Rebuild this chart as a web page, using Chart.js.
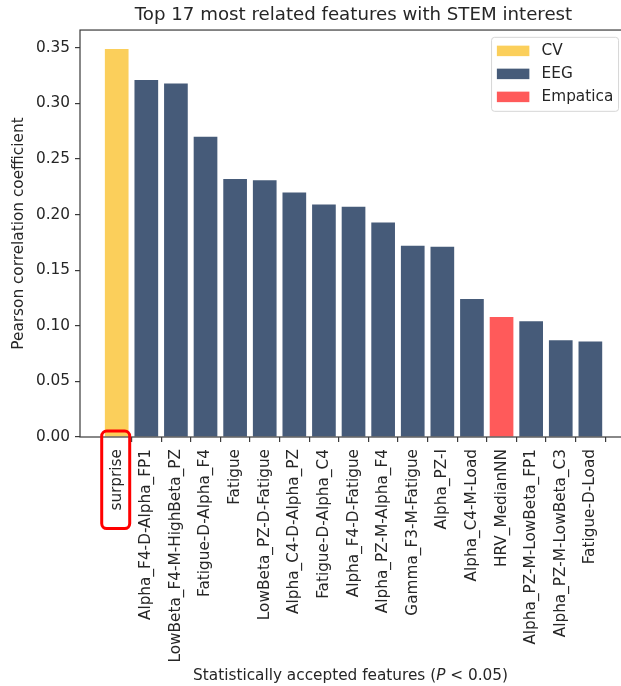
<!DOCTYPE html>
<html>
<head>
<meta charset="utf-8">
<script src="https://cdn.jsdelivr.net/npm/chart.js@4/dist/chart.umd.min.js"></script>
<style>
  html, body { margin: 0; padding: 0; overflow: hidden; background: #fff; }
  canvas { display: block; }
</style>
</head>
<body>
<canvas id="chart" width="707" height="686"></canvas>
<script>
// Features ranked by Pearson correlation with STEM interest
const features = [
  'surprise', 'Alpha_F4-D-Alpha_FP1', 'LowBeta_F4-M-HighBeta_PZ', 'Fatigue-D-Alpha_F4',
  'Fatigue', 'LowBeta_PZ-D-Fatigue', 'Alpha_C4-D-Alpha_PZ', 'Fatigue-D-Alpha_C4',
  'Alpha_F4-D-Fatigue', 'Alpha_PZ-M-Alpha_F4', 'Gamma_F3-M-Fatigue', 'Alpha_PZ-I',
  'Alpha_C4-M-Load', 'HRV_MedianNN', 'Alpha_PZ-M-LowBeta_FP1', 'Alpha_PZ-M-LowBeta_C3',
  'Fatigue-D-Load'
];
const correlations = [
  0.349, 0.321, 0.318, 0.270, 0.232, 0.231, 0.220, 0.209,
  0.207, 0.193, 0.172, 0.171, 0.124, 0.108, 0.104, 0.087, 0.086
];
const sources = [
  'CV', 'EEG', 'EEG', 'EEG', 'EEG', 'EEG', 'EEG', 'EEG',
  'EEG', 'EEG', 'EEG', 'EEG', 'EEG', 'Empatica', 'EEG', 'EEG', 'EEG'
];
const groups = ['CV', 'EEG', 'Empatica'];
const groupColors = ['#FBCF5B', '#465B79', '#FF5A5A'];
const yTicks = [0, 0.05, 0.10, 0.15, 0.20, 0.25, 0.30, 0.35];

const FONT = 'DejaVu Sans';
const FS = 15.3;
const TEXT = '#262626';
const SPINE = '#3a3a3a';
// axes frame spans x = -1.24 .. 17.24 (bar centres at 0..16)
const X_MIN = -1.24, X_FRAME_MAX = 17.24, X_MAX = 19.94;

const datasets = groups.map((g, gi) => ({
  label: g,
  backgroundColor: groupColors[gi],
  borderWidth: 0,
  grouped: false,
  categoryPercentage: 0.8,
  barPercentage: 1.0,
  data: features
    .map((_, i) => ({ x: i, y: correlations[i], src: sources[i] }))
    .filter(p => p.src === g)
}));

// white background, axes frame, legend box, x-axis title and label highlight
const decorations = {
  id: 'decorations',
  beforeDraw(chart) {
    const ctx = chart.ctx;
    ctx.save();
    ctx.fillStyle = '#fff';
    ctx.fillRect(0, 0, chart.width, chart.height);
    ctx.restore();
  },
  afterDraw(chart) {
    const ctx = chart.ctx;
    const a = chart.chartArea;
    const xs = chart.scales.x;
    const right = xs.getPixelForValue(X_FRAME_MAX);
    ctx.save();

    // frame on all four sides
    ctx.strokeStyle = SPINE;
    ctx.lineWidth = 1.2;
    ctx.strokeRect(a.left, a.top, right - a.left, a.bottom - a.top);

    // legend in the upper right corner
    const w = 127, h = 74;
    const lx = right - 8.5 - w, ly = a.top + 7.3;
    ctx.beginPath();
    ctx.roundRect(lx, ly, w, h, 3);
    ctx.fillStyle = 'rgba(255,255,255,0.85)';
    ctx.fill();
    ctx.strokeStyle = '#d6d6d6';
    ctx.lineWidth = 1;
    ctx.stroke();
    ctx.font = FS + 'px "' + FONT + '"';
    ctx.textBaseline = 'middle';
    ctx.textAlign = 'left';
    chart.data.datasets.forEach((ds, i) => {
      const cy = ly + 13.5 + i * 23;
      ctx.fillStyle = ds.backgroundColor;
      ctx.fillRect(lx + 5.3, cy - 5.2, 32.5, 10.5);
      ctx.fillStyle = TEXT;
      ctx.fillText(ds.label, lx + 50, cy + 0.5);
    });

    // x-axis title with italic P
    const parts = [
      { t: 'Statistically accepted features (', f: FS + 'px "' + FONT + '"' },
      { t: 'P', f: 'italic ' + FS + 'px "' + FONT + '"' },
      { t: ' < 0.05)', f: FS + 'px "' + FONT + '"' }
    ];
    let total = 0;
    parts.forEach(p => { ctx.font = p.f; p.w = ctx.measureText(p.t).width; total += p.w; });
    let tx = (a.left + right) / 2 - total / 2 - 3;
    const ty = 676.5;
    ctx.fillStyle = TEXT;
    parts.forEach(p => { ctx.font = p.f; ctx.fillText(p.t, tx, ty); tx += p.w; });

    // red highlight around the first feature label
    ctx.font = FS + 'px "' + FONT + '"';
    const lw = ctx.measureText(features[0]).width;
    const x0 = xs.getPixelForValue(0);
    const top = a.bottom - 6;
    const bottom = a.bottom + 13 + lw + 17;
    ctx.beginPath();
    ctx.roundRect(x0 - 15, top, 28, bottom - top, 5);
    ctx.strokeStyle = '#FF0000';
    ctx.lineWidth = 3;
    ctx.stroke();

    ctx.restore();
  }
};

new Chart(document.getElementById('chart'), {
  type: 'bar',
  data: { datasets },
  plugins: [decorations],
  options: {
    responsive: false,
    animation: false,
    devicePixelRatio: 1,
    layout: { padding: 0 },
    plugins: {
      legend: { display: false },
      tooltip: { enabled: false },
      title: {
        display: true,
        text: 'Top 17 most related features with STEM interest',
        color: TEXT,
        font: { family: FONT, size: 18.2, weight: 'normal' },
        padding: { top: 4, bottom: 4.2 }
      }
    },
    scales: {
      x: {
        type: 'linear',
        min: X_MIN,
        max: X_MAX,
        offset: false,
        border: { display: false },
        grid: { display: true, drawOnChartArea: false, drawTicks: true, tickLength: 5, color: SPINE, lineWidth: 1.2 },
        afterBuildTicks: s => { s.ticks = features.map((_, i) => ({ value: i })); },
        afterFit: s => { s.height = 249; },
        ticks: {
          autoSkip: false,
          minRotation: 90,
          maxRotation: 90,
          padding: 7,
          color: TEXT,
          font: { family: FONT, size: FS },
          callback: v => features[v]
        }
      },
      y: {
        min: 0,
        max: 0.366,
        border: { display: false },
        grid: { display: true, drawOnChartArea: false, drawTicks: true, tickLength: 5, color: SPINE, lineWidth: 1.2 },
        afterBuildTicks: s => { s.ticks = yTicks.map(v => ({ value: v })); },
        afterFit: s => { s.width = 80; },
        title: {
          display: true,
          text: 'Pearson correlation coefficient',
          color: TEXT,
          font: { family: FONT, size: FS },
          padding: { top: 10, bottom: 0 }
        },
        ticks: {
          padding: 5,
          color: TEXT,
          font: { family: FONT, size: FS },
          callback: v => v.toFixed(2)
        }
      }
    }
  }
});
</script>
</body>
</html>
